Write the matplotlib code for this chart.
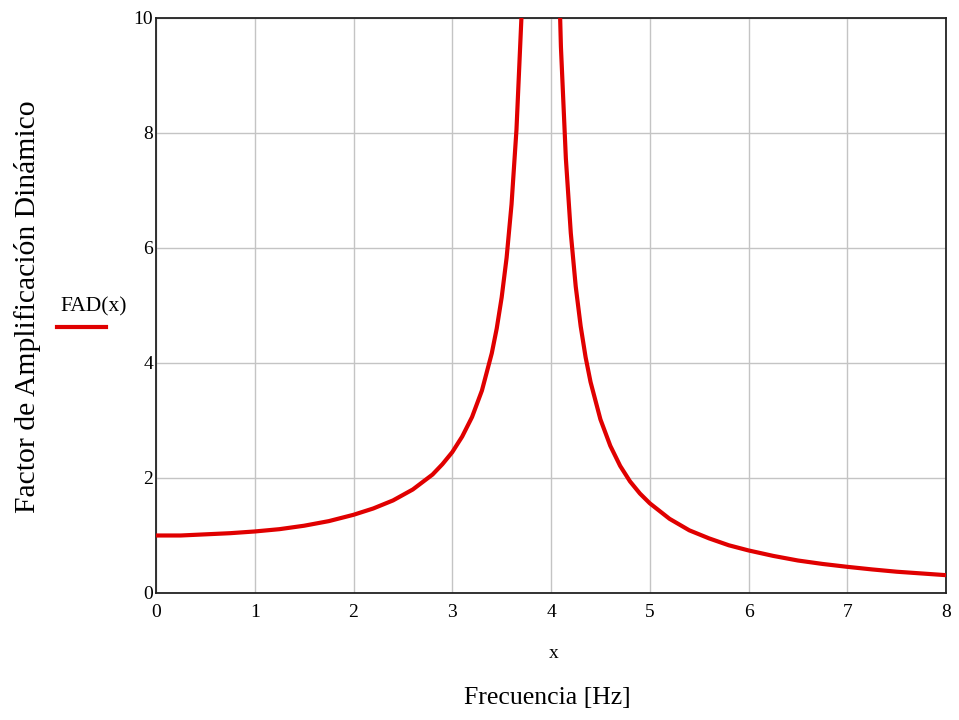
import matplotlib.pyplot as plt

# values (denser where it bends)
freq = [0.0, 0.25, 0.5, 0.75, 1.0, 1.25, 1.5, 1.75, 2.0, 2.2, 2.4, 2.6, 2.8, 2.9,
        3.0, 3.1, 3.2, 3.3, 3.4, 3.45, 3.5, 3.55, 3.6, 3.65, 3.7, 3.75,
        4.05, 4.1, 4.15, 4.2, 4.25, 4.3, 4.35, 4.4, 4.5, 4.6, 4.7, 4.8, 4.9,
        5.0, 5.2, 5.4, 5.6, 5.8, 6.0, 6.25, 6.5, 6.75, 7.0, 7.25, 7.5, 7.75, 8.0]
fad = [1.00, 1.00, 1.02, 1.04, 1.07, 1.11, 1.17, 1.25, 1.36, 1.47, 1.61, 1.80, 2.06, 2.24,
       2.45, 2.72, 3.06, 3.52, 4.17, 4.60, 5.14, 5.83, 6.76, 8.06, 10.0, 13.3,
       12.7, 9.5, 7.56, 6.26, 5.33, 4.64, 4.10, 3.67, 3.02, 2.56, 2.21, 1.94, 1.73,
       1.56, 1.29, 1.09, 0.95, 0.83, 0.74, 0.645, 0.565, 0.505, 0.455, 0.41, 0.37, 0.34, 0.31]

xticks = [0, 1, 2, 3, 4, 5, 6, 7, 8]
yticks = [0, 2, 4, 6, 8, 10]

plt.rcParams['font.family'] = ['Liberation Serif', 'DejaVu Serif']

fig = plt.figure(figsize=(9.59, 7.2), dpi=100)
ax = fig.add_axes([0.1627, 0.1764, 0.8238, 0.7986])

ax.plot(freq, fad, color='#e00000', lw=3.0, solid_joinstyle='round', zorder=3)

ax.set_xlim(0, 8)
ax.set_ylim(0, 10)
ax.set_xticks(xticks)
ax.set_yticks(yticks)
ax.tick_params(length=0, labelsize=14)
ax.tick_params(axis='y', pad=2)
ax.tick_params(axis='x', pad=8)
ax.grid(True, color='#c4c4c4', lw=1)
for s in ax.spines.values():
    s.set_linewidth(1.3)
    s.set_color('#222222')

fig.text(0.029, 0.574, 'Factor de Amplificación Dinámico', fontsize=21.3,
         rotation=90, ha='center', va='center')
fig.text(0.577, 0.093, 'x', fontsize=14, ha='center', va='center')
fig.text(0.571, 0.031, 'Frecuencia [Hz]', fontsize=18.5, ha='center', va='center')

# legend drawn like the original (text above a short red line)
fig.text(0.063, 0.574, 'FAD(x)', fontsize=15.5, ha='left', va='center')
fig.add_artist(plt.Line2D([0.059, 0.111], [0.546, 0.546], color='#e00000', lw=3.0,
                          transform=fig.transFigure))

fig.savefig('out.png', dpi=100)
